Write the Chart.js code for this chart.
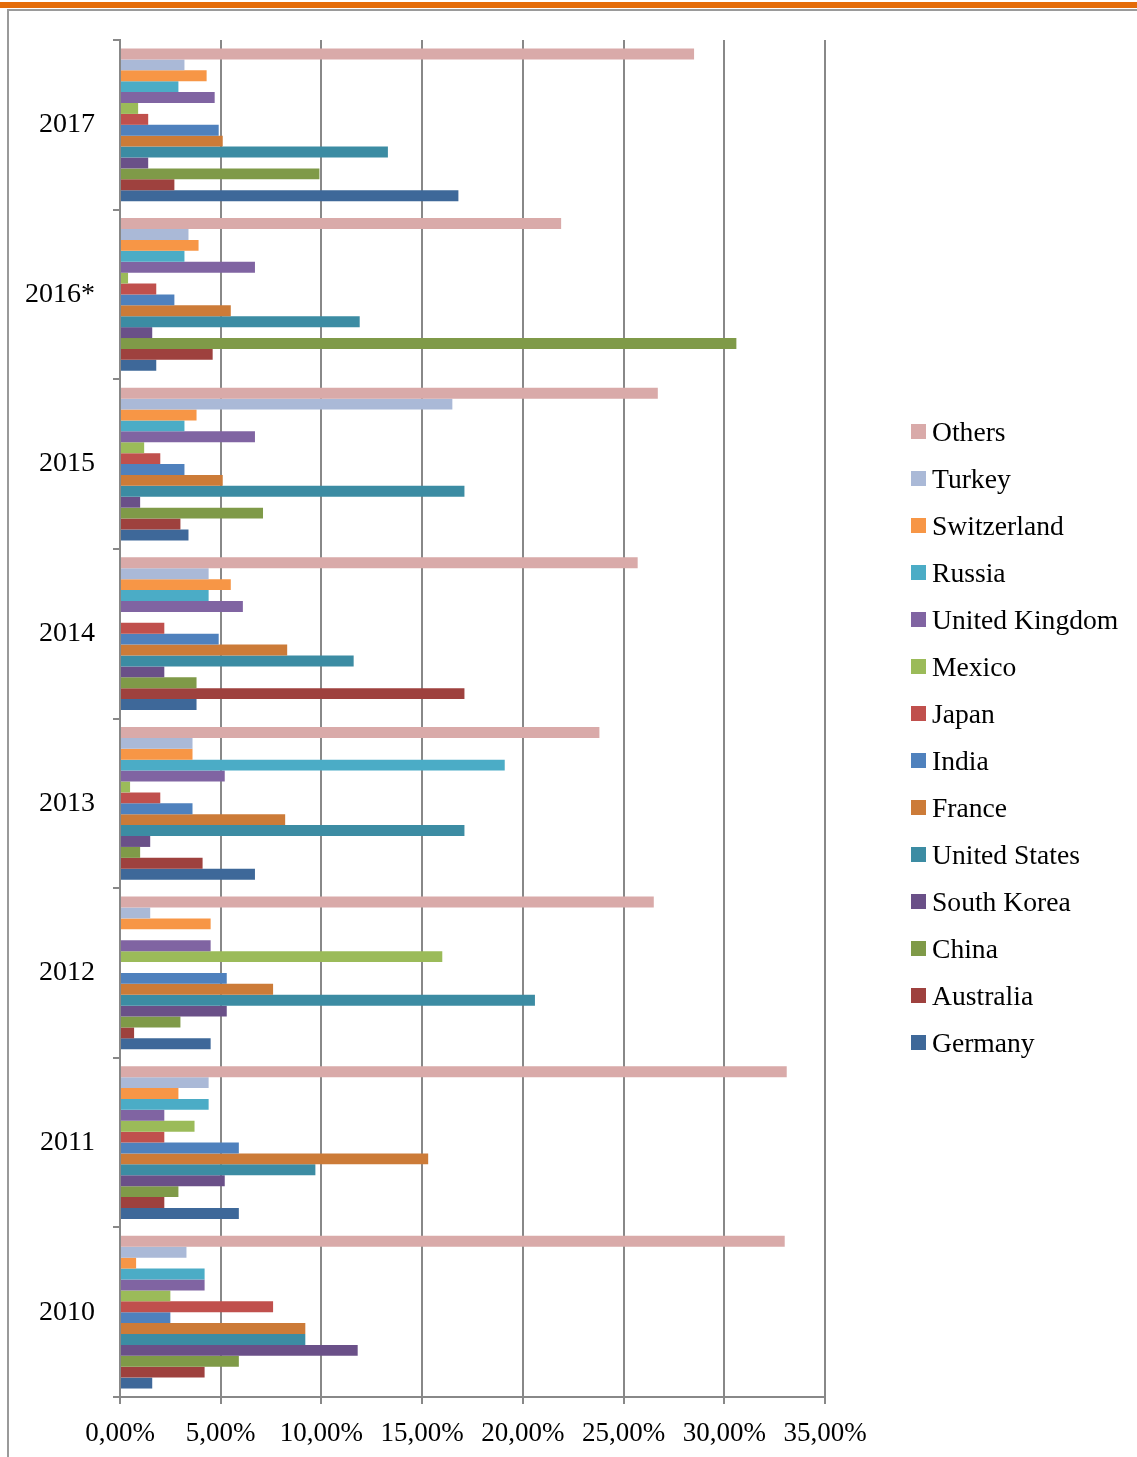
<!DOCTYPE html>
<html><head><meta charset="utf-8">
<script src="https://cdn.jsdelivr.net/npm/chart.js@4/dist/chart.umd.min.js"></script>
<style>
html,body{margin:0;padding:0;background:#fff;}
#wrap{position:relative;width:1137px;height:1457px;overflow:hidden;background:#fff;}
#band{position:absolute;left:0;top:2px;width:1137px;height:6px;background:#E46C0A;}
#ftop{position:absolute;left:7px;top:9px;width:1130px;height:2px;background:#9a9a9a;}
#fleft{position:absolute;left:7px;top:9px;width:2px;height:1448px;background:#9a9a9a;}
#c{position:absolute;left:0;top:0;}
#legend{position:absolute;left:911px;top:408px;font-family:'Liberation Serif',serif;font-size:27.6px;color:#000;}
.li{height:47px;display:flex;align-items:center;white-space:nowrap;}
.sw{width:15px;height:15px;margin-right:6px;flex:none;}
</style></head>
<body><div id="wrap"><div id="band"></div><div id="ftop"></div><div id="fleft"></div><canvas id="c" width="1137" height="1457"></canvas><div id="legend"></div></div>
<script>
const years = ['2017','2016*','2015','2014','2013','2012','2011','2010'];
const xTicks = [0,5,10,15,20,25,30,35];

const others      = [28.5, 21.9, 26.7, 25.7, 23.8, 26.5, 33.1, 33.0];
const turkey      = [3.2, 3.4, 16.5, 4.4, 3.6, 1.5, 4.4, 3.3];
const switzerland = [4.3, 3.9, 3.8, 5.5, 3.6, 4.5, 2.9, 0.8];
const russia      = [2.9, 3.2, 3.2, 4.4, 19.1, 0, 4.4, 4.2];
const unitedKingdom = [4.7, 6.7, 6.7, 6.1, 5.2, 4.5, 2.2, 4.2];
const mexico      = [0.9, 0.4, 1.2, 0, 0.5, 16.0, 3.7, 2.5];
const japan       = [1.4, 1.8, 2.0, 2.2, 2.0, 0, 2.2, 7.6];
const india       = [4.9, 2.7, 3.2, 4.9, 3.6, 5.3, 5.9, 2.5];
const france      = [5.1, 5.5, 5.1, 8.3, 8.2, 7.6, 15.3, 9.2];
const unitedStates = [13.3, 11.9, 17.1, 11.6, 17.1, 20.6, 9.7, 9.2];
const southKorea  = [1.4, 1.6, 1.0, 2.2, 1.5, 5.3, 5.2, 11.8];
const china       = [9.9, 30.6, 7.1, 3.8, 1.0, 3.0, 2.9, 5.9];
const australia   = [2.7, 4.6, 3.0, 17.1, 4.1, 0.7, 2.2, 4.2];
const germany     = [16.8, 1.8, 3.4, 3.8, 6.7, 4.5, 5.9, 1.6];

const seriesNames = ['Others','Turkey','Switzerland','Russia','United Kingdom','Mexico','Japan','India','France','United States','South Korea','China','Australia','Germany'];
const seriesData = [others, turkey, switzerland, russia, unitedKingdom, mexico, japan, india, france, unitedStates, southKorea, china, australia, germany];
const seriesColors = ['#D9AAA9','#AAB9D7','#F79646','#4BACC6','#8064A2','#9BBB59','#C0504D','#4F81BD','#CC7B38','#3C8CA3','#6A5088','#7F9A48','#9E413E','#3E6899'];

const datasets = seriesNames.map((n,i)=>({label:n, data:seriesData[i], backgroundColor:seriesColors[i], borderWidth:0}));

const lg = document.getElementById('legend');
seriesNames.forEach((n,i)=>{
  const d=document.createElement('div'); d.className='li';
  const s=document.createElement('span'); s.className='sw'; s.style.background=seriesColors[i];
  const t=document.createElement('span'); t.textContent=n;
  d.appendChild(s); d.appendChild(t); lg.appendChild(d);
});

const gridCol = '#888888';
new Chart(document.getElementById('c'), {
  type:'bar',
  data:{labels:years, datasets},
  options:{
    indexAxis:'y', responsive:false, animation:false,
    layout:{padding:{top:40,right:312,bottom:0,left:0}},
    plugins:{legend:{display:false}, tooltip:{enabled:false}},
    datasets:{bar:{categoryPercentage:0.9,barPercentage:1.0}},
    scales:{
      x:{min:0,max:35,
         afterBuildTicks:s=>{s.ticks = xTicks.map(v=>({value:v}));},
         ticks:{callback:v=>v.toFixed(2).replace('.',',')+'%', font:{family:'Liberation Serif',size:27}, color:'#000', padding:14, maxRotation:0, autoSkip:false},
         grid:{color:gridCol, lineWidth:2, tickLength:7, drawTicks:true},
         border:{display:true,color:gridCol,width:2},
         afterFit:s=>{s.height=60;}},
      y:{ticks:{font:{family:'Liberation Serif',size:28},color:'#000',padding:18},
         grid:{display:true, drawOnChartArea:false, drawTicks:true, tickLength:7, color:gridCol, lineWidth:2, offset:true},
         border:{display:true,color:gridCol,width:2},
         afterFit:s=>{s.width=120;}}
    }
  }
});
</script>
</body></html>
